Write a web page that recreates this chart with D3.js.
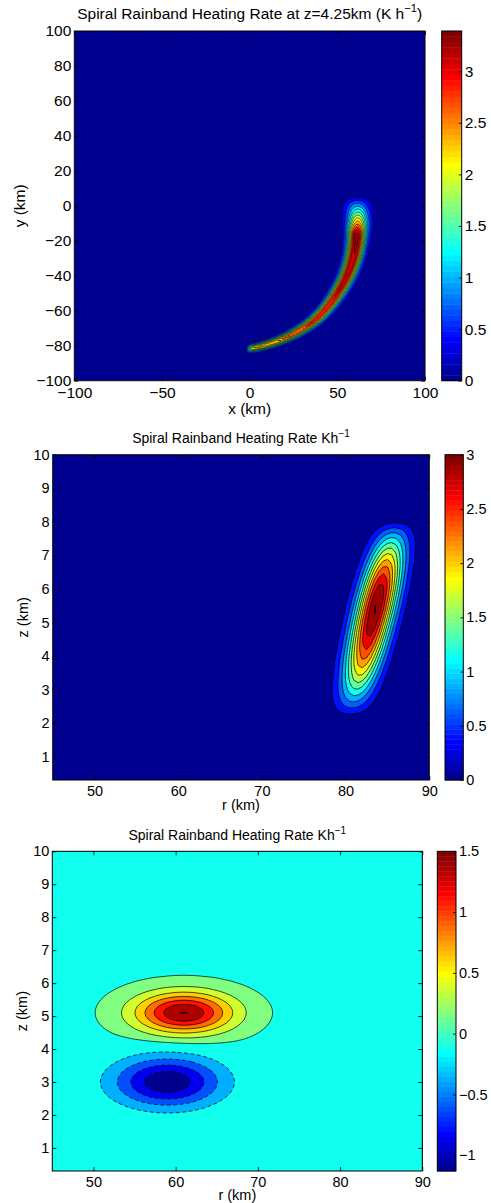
<!DOCTYPE html>
<html>
<head>
<meta charset="utf-8">
<script src="https://cdn.jsdelivr.net/npm/d3@7"></script>
<style>
  body { margin: 0; background: #fff; }
  svg text { font-family: "Liberation Sans", Arial, Helvetica, sans-serif; fill: #000; }
</style>
</head>
<body>
<svg id="fig" width="491" height="1203"></svg>
<script>
// ---------------- Panel 1: plan view of the spiral band at z = 4.25 km ----------------
const planX = [-100, 100];
const planY = [-100, 100];
const planXTicks = [-100, -50, 0, 50, 100];
const planYTicks = [-100, -80, -60, -40, -20, 0, 20, 40, 60, 80, 100];
// band axis described along azimuth (deg, counter-clockwise from +x)
const bandAngle  = [-92, -89, -75, -60, -45, -30, -15, 0, 6];
const bandRadius = [82.1, 81.4, 78.2, 75.0, 70.6, 66.9, 63.2, 61.5, 61.2];
const bandWidth  = [1.6, 1.6, 1.9, 2.3, 2.8, 3.3, 3.8, 4.8, 5.2];
const bandPeak   = [0, 2.3, 2.6, 2.9, 3.05, 3.2, 3.39, 0.97, 0];
const planLevels = [0.25, 0.5, 0.75, 1, 1.25, 1.5, 1.75, 2, 2.25, 2.5, 2.75, 3, 3.25];
const planCLim   = [0, 3.39];
const planCTicks = [0, 0.5, 1, 1.5, 2, 2.5, 3];

// ---------------- Panel 2: radius-height section through the band ----------------
const secR = [45, 90];
const secZ = [0.3, 10];
const secRTicks = [50, 60, 70, 80, 90];
const secZTicks = [1, 2, 3, 4, 5, 6, 7, 8, 9, 10];
const tiltCentre = [83.6, 5.45];   // r, z of the heating maximum (km)
const tiltSlope  = 0.949;          // outward lean of the band axis (km r per km z)
const tiltRadial = 1.6;            // radial e-folding width (km)
const tiltDepth  = [3.36, 2.65];   // distance from the maximum down to the base / up to the top (km)
const tiltPeak   = 3.02;
const tiltLevels = [0.25, 0.5, 0.75, 1, 1.25, 1.5, 1.75, 2, 2.25, 2.5, 2.75, 3];
const tiltCLim   = [0, 3];
const tiltCTicks = [0, 0.5, 1, 1.5, 2, 2.5, 3];

// ---------------- Panel 3: heating dipole in the radius-height section ----------------
const cellCentreR = [61, 59];
const cellCentreZ = [5.1, 3.0];
const cellPeak    = [1.51, -1.2];
const cellWidthR  = [4.0, 4.6];
const cellWidthZ  = [0.42, 0.53];
const dipoleLevels = [-1, -0.75, -0.5, -0.25, 0.04, 0.25, 0.5, 0.75, 1, 1.25, 1.5];
const dipoleCLim   = [-1.13, 1.5];
const dipoleCTicks = [-1, -0.5, 0, 0.5, 1, 1.5];

// ---------------- helpers ----------------
const svg = d3.select("#fig");
const fmt = d3.format("~g");

// MATLAB-style jet colormap with 64 entries
function jet(p) {
  const c = t => Math.max(0, Math.min(1, t));
  return d3.rgb(
    Math.round(255 * c(Math.min(4 * p - 1.5, -4 * p + 4.5))),
    Math.round(255 * c(Math.min(4 * p - 0.5, -4 * p + 3.5))),
    Math.round(255 * c(Math.min(4 * p + 0.5, -4 * p + 2.5)))
  ).formatHex();
}
const jetMap = d3.range(1, 65).map(i => jet(i / 64));

function sampleGrid(xs, ys, f) {
  const n = xs.length, m = ys.length, v = new Float64Array(n * m);
  for (let j = 0; j < m; j++) for (let i = 0; i < n; i++) v[j * n + i] = f(xs[i], ys[j]);
  return { xs, ys, n, m, v };
}

let clipId = 0;
function drawPanel(o) {
  const g = svg.append("g");
  const left = o.box[0], top = o.box[1], right = o.box[2], bottom = o.box[3];
  const sx = d3.scaleLinear().domain(o.xDomain).range([left, right]);
  const sy = d3.scaleLinear().domain(o.yDomain).range([bottom, top]);
  const color = d3.scaleQuantize().domain(o.cLim).range(jetMap);
  // each filled band takes the colour of its middle value
  const bandFill = k => {
    const lo = o.levels[k], hi = k + 1 < o.levels.length ? o.levels[k + 1] : o.cLim[1];
    return color(Math.min(o.cLim[1], (lo + hi) / 2));
  };

  const id = "clip" + (clipId++);
  g.append("clipPath").attr("id", id).append("rect")
    .attr("x", left).attr("y", top).attr("width", right - left).attr("height", bottom - top);
  const plot = g.append("g").attr("clip-path", `url(#${id})`);

  const grid = o.grid;
  const dx = grid.xs[1] - grid.xs[0], dy = grid.ys[1] - grid.ys[0];
  const proj = d3.geoTransform({
    point(px, py) {
      this.stream.point(sx(grid.xs[0] + (px - 0.5) * dx), sy(grid.ys[0] + (py - 0.5) * dy));
    }
  });
  const path = d3.geoPath(proj);
  const bands = d3.contours().size([grid.n, grid.m]).thresholds(o.levels)(grid.v);

  plot.append("rect").attr("x", left).attr("y", top)
    .attr("width", right - left).attr("height", bottom - top)
    .attr("fill", color(o.cLim[0]));
  plot.selectAll("path.band").data(bands).join("path")
    .attr("class", "band").attr("d", path)
    .attr("fill", (d, k) => bandFill(k)).attr("fill-rule", "evenodd");
  plot.selectAll("path.line").data(bands).join("path")
    .attr("class", "line").attr("d", path)
    .attr("fill", "none").attr("stroke", "#000")
    .attr("stroke-width", o.lineWidth)
    .attr("stroke-dasharray", d => (o.dashNegative && d.value < 0) ? "4,2.5" : null);

  // axes with inward ticks on all four sides
  const tk = 4;
  const style = sel => {
    sel.select(".domain").remove();
    sel.selectAll(".tick line").attr("stroke", "#000").attr("stroke-width", 0.8);
    sel.selectAll(".tick text").attr("font-size", o.fs).attr("fill", "#000");
    sel.attr("font-family", null).attr("font-size", null);
  };
  g.append("g").attr("transform", `translate(0,${bottom})`)
    .call(d3.axisBottom(sx).tickValues(o.xTicks).tickSizeInner(-tk).tickSizeOuter(0).tickPadding(6).tickFormat(fmt)).call(style);
  g.append("g").attr("transform", `translate(0,${top})`)
    .call(d3.axisTop(sx).tickValues(o.xTicks).tickSizeInner(-tk).tickSizeOuter(0).tickFormat("")).call(style);
  g.append("g").attr("transform", `translate(${left},0)`)
    .call(d3.axisLeft(sy).tickValues(o.yTicks).tickSizeInner(-tk).tickSizeOuter(0).tickPadding(3).tickFormat(fmt)).call(style);
  g.append("g").attr("transform", `translate(${right},0)`)
    .call(d3.axisRight(sy).tickValues(o.yTicks).tickSizeInner(-tk).tickSizeOuter(0).tickFormat("")).call(style);
  g.append("rect").attr("x", left).attr("y", top).attr("width", right - left).attr("height", bottom - top)
    .attr("fill", "none").attr("stroke", "#000").attr("stroke-width", 1);

  // colorbar
  const cb = o.cbar;
  const cy = d3.scaleLinear().domain(o.cLim).range([bottom, top]);
  const step = (o.cLim[1] - o.cLim[0]) / jetMap.length;
  g.append("g").selectAll("rect").data(jetMap).join("rect")
    .attr("x", cb[0]).attr("width", cb[1] - cb[0])
    .attr("y", (d, i) => cy(o.cLim[0] + (i + 1) * step))
    .attr("height", (d, i) => cy(o.cLim[0] + i * step) - cy(o.cLim[0] + (i + 1) * step) + 0.4)
    .attr("fill", d => d);
  g.append("g").attr("transform", `translate(${cb[1]},0)`)
    .call(d3.axisRight(cy).tickValues(o.cTicks).tickSizeInner(-3).tickSizeOuter(0).tickPadding(3).tickFormat(fmt)).call(style);
  g.append("rect").attr("x", cb[0]).attr("y", top).attr("width", cb[1] - cb[0]).attr("height", bottom - top)
    .attr("fill", "none").attr("stroke", "#000").attr("stroke-width", 1);

  // title and axis labels
  const t = g.append("text").attr("x", (left + right) / 2).attr("y", o.titleY)
    .attr("text-anchor", "middle").attr("font-size", o.tfs);
  t.append("tspan").text(o.title[0]);
  t.append("tspan").attr("font-size", o.tfs * 0.72).attr("dy", -o.tfs * 0.42).text(o.title[1]);
  if (o.title[2]) t.append("tspan").attr("dy", o.tfs * 0.42).text(o.title[2]);
  g.append("text").attr("x", (left + right) / 2).attr("y", o.xLabelY)
    .attr("text-anchor", "middle").attr("font-size", o.fs).text(o.xLabel);
  g.append("text").attr("transform", `translate(${o.yLabelX},${(top + bottom) / 2}) rotate(-90)`)
    .attr("text-anchor", "middle").attr("dy", "0.35em").attr("font-size", o.fs).text(o.yLabel);
}

// ---------------- fields ----------------
const toRad = Math.PI / 180;
const peakAt   = d3.scaleLinear().domain(bandAngle).range(bandPeak).clamp(true);
const radiusAt = d3.scaleLinear().domain(bandAngle).range(bandRadius).clamp(true);
const widthAt  = d3.scaleLinear().domain(bandAngle).range(bandWidth).clamp(true);
const planGrid = sampleGrid(d3.range(planX[0], planX[1] + 0.5, 1), d3.range(planY[0], planY[1] + 0.5, 1), (x, y) => {
  const th = Math.atan2(y, x) / toRad, r = Math.hypot(x, y);
  const a = peakAt(th);
  if (a <= 0) return 0;
  const w = widthAt(th), d = r - radiusAt(th);
  return a * Math.exp(-0.5 * (d / w) * (d / w));
});

// leaning band: half-sine vertical structure, gaussian across the band axis
const tiltGrid = sampleGrid(d3.range(secR[0], secR[1] + 0.25, 0.5), d3.range(secZ[0], secZ[1] + 0.35, 0.1), (r, z) => {
  const dz = z - tiltCentre[1];
  const depth = dz < 0 ? tiltDepth[0] : tiltDepth[1];
  const u = Math.abs(dz) / depth;
  if (u >= 1) return 0;
  const dr = r - tiltCentre[0] - tiltSlope * dz;
  return tiltPeak * Math.cos(u * Math.PI / 2) * Math.exp(-0.5 * (dr / tiltRadial) ** 2);
});

const dipoleGrid = sampleGrid(d3.range(secR[0], secR[1] + 0.25, 0.5), d3.range(secZ[0], secZ[1] + 0.35, 0.1), (r, z) => {
  let s = 0;
  for (let k = 0; k < cellPeak.length; k++) {
    const a = (r - cellCentreR[k]) / cellWidthR[k], b = (z - cellCentreZ[k]) / cellWidthZ[k];
    s += cellPeak[k] * Math.exp(-0.5 * (a * a + b * b));
  }
  return s;
});

// ---------------- draw ----------------
drawPanel({
  box: [74.3, 31, 425, 380.7], cbar: [441.7, 461.7],
  xDomain: planX, yDomain: planY, xTicks: planXTicks, yTicks: planYTicks,
  grid: planGrid, levels: planLevels, cLim: planCLim, cTicks: planCTicks,
  lineWidth: 0.5, fs: 15.5, tfs: 15.5,
  title: ["Spiral Rainband Heating Rate at z=4.25km (K h", "\u22121", ")"], titleY: 19,
  xLabel: "x (km)", xLabelY: 414, yLabel: "y (km)", yLabelX: 20
});

drawPanel({
  box: [52.7, 454.7, 429.3, 780], cbar: [445, 463.3],
  xDomain: secR, yDomain: secZ, xTicks: secRTicks, yTicks: secZTicks,
  grid: tiltGrid, levels: tiltLevels, cLim: tiltCLim, cTicks: tiltCTicks,
  lineWidth: 0.7, fs: 14.5, tfs: 14,
  title: ["Spiral Rainband Heating Rate Kh", "\u22121"], titleY: 443,
  xLabel: "r (km)", xLabelY: 810, yLabel: "z (km)", yLabelX: 22.5
});

drawPanel({
  box: [52.3, 851.3, 422.3, 1171], cbar: [437.3, 456],
  xDomain: secR, yDomain: secZ, xTicks: secRTicks, yTicks: secZTicks,
  grid: dipoleGrid, levels: dipoleLevels, cLim: dipoleCLim, cTicks: dipoleCTicks,
  lineWidth: 0.7, fs: 14.5, tfs: 14, dashNegative: true,
  title: ["Spiral Rainband Heating Rate Kh", "\u22121"], titleY: 840,
  xLabel: "r (km)", xLabelY: 1200, yLabel: "z (km)", yLabelX: 22
});
</script>
</body>
</html>
